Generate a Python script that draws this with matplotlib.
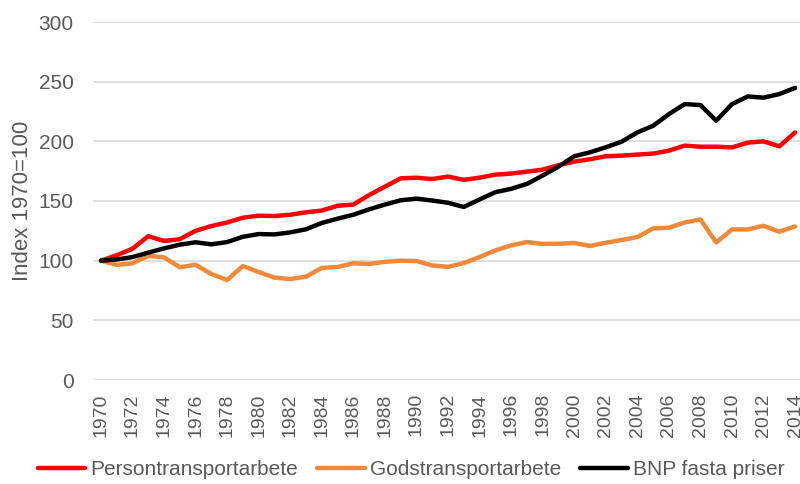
import matplotlib
matplotlib.use("Agg")
import matplotlib.pyplot as plt

plt.rcParams["font.family"] = ["Liberation Sans", "DejaVu Sans"]

years = list(range(1970, 2015))

person = [100, 104.5, 110, 120.5, 116.5, 118, 125, 129, 132, 136,
          137.7, 137.4, 138.5, 140.5, 142, 146, 147, 155, 162, 169,
          169.5, 168.4, 170.5, 167.7, 169.6, 172.1, 173, 174.6, 176.3, 180,
          183, 185, 187.5, 188, 188.9, 189.7, 192.2, 196.4, 195.5, 195.5,
          194.9, 198.9, 200, 195.8, 207.5]

gods = [100, 96.5, 97.8, 104, 102.8, 94.5, 96.6, 88.8, 83.8, 95.5,
        90.5, 85.8, 84.6, 86.6, 93.9, 94.7, 97.8, 97.2, 99, 100,
        99.7, 96, 94.8, 98, 103, 108.6, 112.8, 115.6, 114, 114.2,
        114.8, 112.3, 115, 117.3, 119.8, 127, 127.6, 132, 134.5, 115.3,
        126.2, 126.2, 129.2, 124.3, 128.7]

bnp = [100, 101, 103, 106.7, 110.3, 113.4, 115.4, 113.7, 115.6, 120,
       122.3, 122, 123.7, 126.3, 131.6, 135.2, 138.5, 143, 147, 150.6,
       152, 150.4, 148.5, 145, 151.3, 157.4, 160.2, 164.3, 171.3, 178.8,
       187.5, 190.8, 195, 199.7, 207.5, 213, 222.8, 231.2, 230.4, 217.3,
       231.2, 237.6, 236.6, 239.6, 244.8]

labels = ["Persontransportarbete", "Godstransportarbete", "BNP fasta priser"]
colors = ["#FF0000", "#F08A3A", "#000000"]
text_color = "#595959"

fig = plt.figure(figsize=(8, 4.84), dpi=100)
ax = fig.add_axes([93 / 800, 104 / 484, 710 / 800, 358 / 484])

for series, lab, col in zip([person, gods, bnp], labels, colors):
    ax.plot(years, series, color=col, lw=3.2, label=lab, solid_joinstyle="round",
            solid_capstyle="round")

ax.set_xlim(1969.5, 2014.5)
ax.set_ylim(0, 300)
ax.set_yticks(range(0, 301, 50))
ax.set_xticks(years[::2])
ax.set_xticklabels([str(y) for y in years[::2]], rotation=90)
ax.grid(axis="y", color="#D9D9D9", lw=1.2)
ax.set_axisbelow(True)
for s in ax.spines.values():
    s.set_visible(False)
ax.tick_params(axis="y", length=0, pad=14, labelsize=15, labelcolor=text_color)
ax.tick_params(axis="x", length=0, pad=9.5, labelsize=14, labelcolor=text_color)
ax.set_ylabel("Index 1970=100", fontsize=16, color=text_color, labelpad=4)

fig.legend(loc="center", bbox_to_anchor=(0.514, 0.029), ncol=3, frameon=False,
           fontsize=15, labelcolor=text_color, handlelength=2.3,
           handletextpad=0.25, columnspacing=0.9)

fig.savefig("out.png", dpi=100)
